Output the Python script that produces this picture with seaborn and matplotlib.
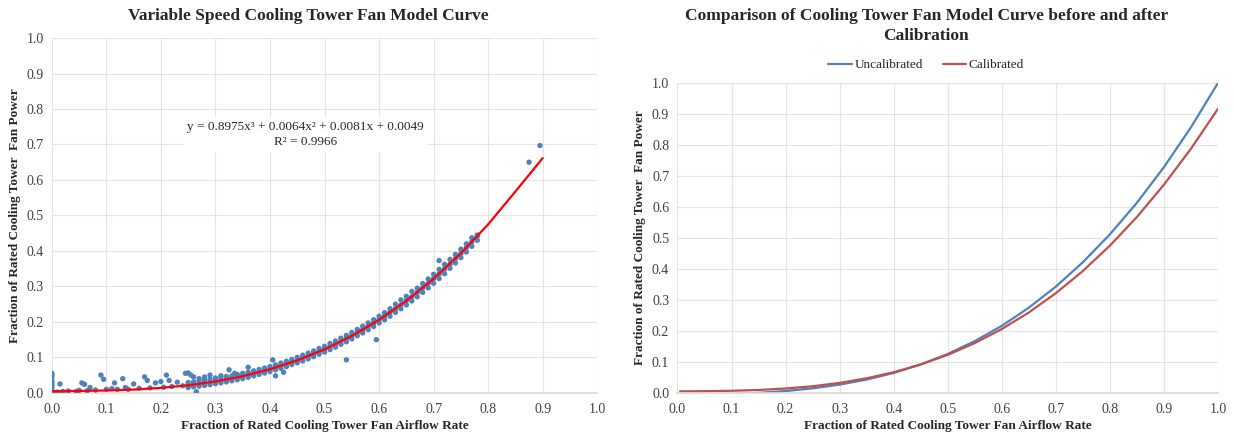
import numpy as np
import pandas as pd
import seaborn as sns
import matplotlib.pyplot as plt

# puntos medidos (fraccion de caudal de aire, fraccion de potencia)
scatter_x = [0.0, 0.0, 0.0, 0.0, 0.0, 0.0, 0.0, 0.0, 0.0, 0.0, 0.0,
             0.005, 0.01, 0.015, 0.02, 0.03, 0.045, 0.05, 0.055, 0.06, 0.065,
             0.07, 0.08, 0.09, 0.095, 0.1, 0.11, 0.115, 0.12, 0.13, 0.135,
             0.14, 0.15, 0.16, 0.17, 0.175, 0.18, 0.19, 0.2, 0.205, 0.21,
             0.215, 0.22, 0.23, 0.24, 0.245, 0.25, 0.255, 0.26, 0.265, 0.27,
             0.28, 0.29, 0.3, 0.31, 0.325, 0.335, 0.36, 0.405, 0.41, 0.425,
             0.54, 0.595, 0.71, 0.875, 0.895]
scatter_y = [0.0, 0.005, 0.01, 0.015, 0.02, 0.025, 0.03, 0.035, 0.045, 0.05, 0.055,
             0.0, 0.002, 0.025, 0.004, 0.005, 0.004, 0.007, 0.028, 0.024, 0.006,
             0.015, 0.008, 0.05, 0.038, 0.01, 0.012, 0.028, 0.01, 0.04, 0.015,
             0.01, 0.025, 0.013, 0.045, 0.035, 0.014, 0.028, 0.032, 0.016, 0.05,
             0.035, 0.018, 0.03, 0.02, 0.055, 0.056, 0.05, 0.045, 0.003, 0.04,
             0.045, 0.05, 0.042, 0.048, 0.065, 0.055, 0.072, 0.093, 0.048, 0.058,
             0.093, 0.15, 0.373, 0.65, 0.697]

# banda densa de datos entre 0.25 y 0.78
band_x = [0.25, 0.26, 0.27, 0.28, 0.29, 0.30, 0.31, 0.32, 0.33, 0.34, 0.35, 0.36,
          0.37, 0.38, 0.39, 0.40, 0.41, 0.42, 0.43, 0.44, 0.45, 0.46, 0.47, 0.48,
          0.49, 0.50, 0.51, 0.52, 0.53, 0.54, 0.55, 0.56, 0.57, 0.58, 0.59, 0.60,
          0.61, 0.62, 0.63, 0.64, 0.65, 0.66, 0.67, 0.68, 0.69, 0.70, 0.71, 0.72,
          0.73, 0.74, 0.75, 0.76, 0.77, 0.78]
band_low = [0.015, 0.017, 0.019, 0.021, 0.023, 0.026, 0.028, 0.031, 0.034, 0.037, 0.040, 0.044,
            0.048, 0.052, 0.056, 0.060, 0.065, 0.069, 0.074, 0.080, 0.085, 0.090, 0.096, 0.102,
            0.109, 0.115, 0.122, 0.129, 0.137, 0.144, 0.152, 0.161, 0.169, 0.178, 0.187, 0.197,
            0.206, 0.216, 0.227, 0.237, 0.248, 0.259, 0.271, 0.283, 0.296, 0.309, 0.322, 0.336,
            0.351, 0.366, 0.381, 0.397, 0.413, 0.430]
band_mid = [0.022, 0.024, 0.026, 0.028, 0.030, 0.033, 0.035, 0.038, 0.041, 0.044, 0.048, 0.051,
            0.055, 0.059, 0.063, 0.067, 0.072, 0.077, 0.082, 0.087, 0.092, 0.098, 0.104, 0.110,
            0.117, 0.123, 0.130, 0.138, 0.145, 0.153, 0.161, 0.170, 0.178, 0.187, 0.197, 0.207,
            0.216, 0.227, 0.237, 0.248, 0.260, 0.271, 0.283, 0.296, 0.308, 0.322, 0.335, 0.349,
            0.363, 0.378, 0.393, 0.409, 0.425, 0.441]
band_high = [0.029, 0.031, 0.033, 0.036, 0.038, 0.040, 0.043, 0.046, 0.048, 0.052, 0.055, 0.058,
             0.062, 0.066, 0.070, 0.074, 0.079, 0.084, 0.089, 0.094, 0.100, 0.106, 0.112, 0.118,
             0.125, 0.131, 0.139, 0.146, 0.154, 0.162, 0.170, 0.179, 0.188, 0.197, 0.206, 0.216,
             0.226, 0.237, 0.250, 0.262, 0.272, 0.286, 0.295, 0.308, 0.321, 0.334, 0.348, 0.362,
             0.376, 0.390, 0.405, 0.420, 0.437, 0.445]

# linea de tendencia
fit_x = [0.0, 0.05, 0.1, 0.15, 0.2, 0.25, 0.3, 0.35, 0.4, 0.45, 0.5,
         0.55, 0.6, 0.65, 0.7, 0.75, 0.8, 0.85, 0.9]
fit_y = [0.0049, 0.0054, 0.0067, 0.0093, 0.0140, 0.0213, 0.0321, 0.0470, 0.0666, 0.0916, 0.1227,
         0.1606, 0.2059, 0.2594, 0.3216, 0.3932, 0.4750, 0.5676, 0.6617]

# curvas antes y despues de calibrar
curve_x = [0.005, 0.05, 0.1, 0.15, 0.2, 0.25, 0.3, 0.35, 0.4, 0.45, 0.5,
           0.55, 0.6, 0.65, 0.7, 0.75, 0.8, 0.85, 0.9, 0.95, 1.0]
uncal_y = [-0.009, -0.0068, -0.0040, 0.0000, 0.0059, 0.0145, 0.0266, 0.0430, 0.0643, 0.0917, 0.1256,
           0.1669, 0.2163, 0.2747, 0.3429, 0.4215, 0.5115, 0.6134, 0.7284, 0.8570, 1.0000]
cal_y = [0.0049, 0.0054, 0.0067, 0.0093, 0.0140, 0.0213, 0.0321, 0.0470, 0.0666, 0.0916, 0.1227,
         0.1606, 0.2059, 0.2594, 0.3216, 0.3932, 0.4750, 0.5676, 0.6717, 0.7879, 0.9169]

ticks = [0.0, 0.1, 0.2, 0.3, 0.4, 0.5, 0.6, 0.7, 0.8, 0.9, 1.0]

sns.set_theme(style="whitegrid")
plt.rcParams['font.family'] = ['Liberation Serif', 'DejaVu Serif']

pts = pd.DataFrame({
    'x': scatter_x + band_x * 3,
    'y': scatter_y + band_low + band_mid + band_high,
})
df_cmp = pd.DataFrame({
    'x': curve_x * 2,
    'y': uncal_y + cal_y,
    'serie': ['Uncalibrated'] * len(curve_x) + ['Calibrated'] * len(curve_x),
})

fig = plt.figure(figsize=(12.34, 4.37), dpi=100)
ax1 = fig.add_axes([0.042, 0.101, 0.442, 0.812])
ax2 = fig.add_axes([0.549, 0.101, 0.438, 0.709])

# grafico izquierdo
sns.scatterplot(data=pts, x='x', y='y', ax=ax1, color='#4F81BD', s=15,
                edgecolor='none', zorder=3)
sns.lineplot(x=fit_x, y=fit_y, ax=ax1, color='red', linewidth=1.6, zorder=4)
ax1.text(0.465, 0.728, 'y = 0.8975x³ + 0.0064x² + 0.0081x + 0.0049\nR² = 0.9966',
         ha='center', va='center', fontsize=9.5, linespacing=1.25,
         bbox=dict(facecolor='white', edgecolor='none', pad=3), zorder=5)
ax1.set_title('Variable Speed Cooling Tower Fan Model Curve', x=0.47,
              fontsize=12.5, fontweight='bold', pad=13)
ax1.set_ylabel('Fraction of Rated Cooling Tower  Fan Power', fontsize=9.5,
               fontweight='bold', labelpad=4)

# grafico derecho
sns.lineplot(data=df_cmp, x='x', y='y', hue='serie', ax=ax2,
             palette={'Uncalibrated': '#4F81BD', 'Calibrated': '#C0504D'},
             linewidth=1.6)
ax2.set_title('Comparison of Cooling Tower Fan Model Curve before and after\nCalibration',
              x=0.46, fontsize=12.5, fontweight='bold', pad=31, linespacing=1.35)
ax2.legend(loc='lower center', bbox_to_anchor=(0.46, 1.0), ncol=2, frameon=False,
           fontsize=9.5, handlelength=1.8, handletextpad=0.2, columnspacing=1.5)
ax2.set_ylabel('Fraction of Rated Cooling Tower  Fan Power', fontsize=9.5,
               fontweight='bold', labelpad=4)

for ax in (ax1, ax2):
    ax.set_xlim(0, 1.0)
    ax.set_ylim(0, 1.0)
    ax.set_xticks(ticks)
    ax.set_yticks(ticks)
    ax.set_xticklabels([f'{t:.1f}' for t in ticks])
    ax.set_yticklabels([f'{t:.1f}' for t in ticks])
    ax.tick_params(labelsize=10, colors='#404040', length=0)
    ax.tick_params(axis='x', pad=7)
    ax.tick_params(axis='y', pad=6)
    ax.set_xlabel('Fraction of Rated Cooling Tower Fan Airflow Rate', fontsize=9.5,
                  fontweight='bold', labelpad=3)
    ax.grid(True, color='#E4E4E4', linewidth=0.8)
    for sp in ax.spines.values():
        sp.set_visible(False)
    ax.spines['bottom'].set_visible(True)
    ax.spines['bottom'].set_color('#D9D9D9')

fig.savefig('out.png', dpi=100)
